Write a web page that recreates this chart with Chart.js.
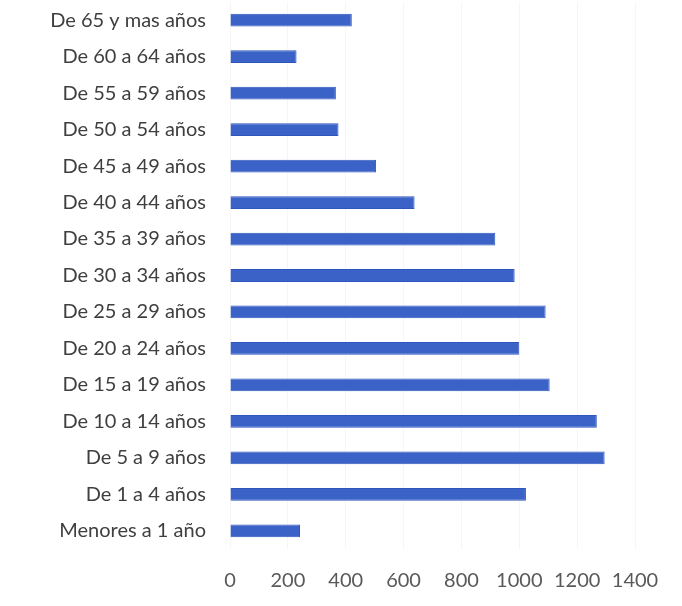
<!DOCTYPE html>
<html>
<head>
<meta charset="utf-8">
<script src="https://cdn.jsdelivr.net/npm/chart.js@4"></script>
<style>
  html, body { margin: 0; padding: 0; background: #ffffff; }
  #wrap { width: 682px; height: 606px; position: relative; }
</style>
</head>
<body>
<div id="wrap"><canvas id="c" width="682" height="606"></canvas></div>
<script>
// Age groups, listed top to bottom
const grupos = [
  'De 65 y mas años',
  'De 60 a 64 años',
  'De 55 a 59 años',
  'De 50 a 54 años',
  'De 45 a 49 años',
  'De 40 a 44 años',
  'De 35 a 39 años',
  'De 30 a 34 años',
  'De 25 a 29 años',
  'De 20 a 24 años',
  'De 15 a 19 años',
  'De 10 a 14 años',
  'De 5 a 9 años',
  'De 1 a 4 años',
  'Menores a 1 año'
];
// Count per age group
const casos = [421, 230, 366, 375, 505, 638, 917, 984, 1091, 1000, 1105, 1268, 1295, 1023, 242];
// Horizontal axis range
const ejeMin = 0;
const ejeMax = 1400;
const ejePaso = 200;

const fuente = 'Lato, "Open Sans", "Liberation Sans", sans-serif';

new Chart(document.getElementById('c'), {
  type: 'bar',
  data: {
    labels: grupos,
    datasets: [{
      data: casos,
      backgroundColor: '#3b62c6',
      borderColor: '#2f55bf',
      borderWidth: 1,
      categoryPercentage: 1.0,
      barPercentage: 0.35
    }]
  },
  options: {
    indexAxis: 'y',
    responsive: false,
    animation: false,
    layout: { padding: { left: 0, right: 47, top: 2, bottom: 0 } },
    plugins: { legend: { display: false }, tooltip: { enabled: false } },
    scales: {
      x: {
        min: ejeMin,
        max: ejeMax,
        ticks: {
          stepSize: ejePaso,
          color: '#595959',
          padding: 20,
          font: { family: fuente, size: 20 },
          callback: (v) => String(v)
        },
        grid: { color: '#f6f6f6', drawTicks: false },
        border: { display: false },
        afterFit: (s) => { s.height = 57; s.paddingLeft = 0; s.paddingRight = 0; }
      },
      y: {
        ticks: {
          color: '#3f3f3f',
          padding: 24,
          font: { family: fuente, size: 20 }
        },
        grid: { display: false, drawTicks: false },
        border: { display: false },
        afterFit: (s) => { s.width = 230; s.paddingTop = 0; s.paddingBottom = 0; }
      }
    }
  }
});
</script>
</body>
</html>
